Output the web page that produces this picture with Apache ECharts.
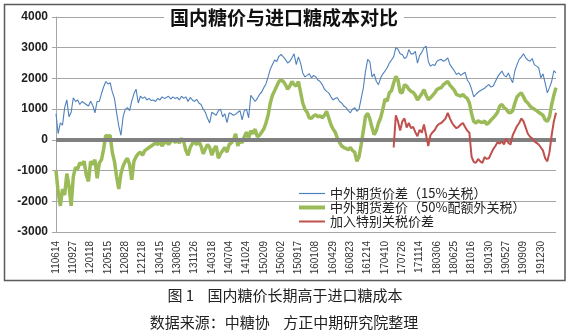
<!DOCTYPE html>
<html>
<head>
<meta charset="utf-8">
<script src="https://cdn.jsdelivr.net/npm/echarts@6/dist/echarts.min.js"></script>
<style>
  html, body { margin: 0; padding: 0; background: #fff; }
  #chart { width: 576px; height: 335px; }
</style>
</head>
<body>
<div id="chart"></div>
<script>
// Date labels (YYMMDD) shown under the axis, one every `pointsPerLabel` samples
const tickLabels = ['110614','110927','120118','120515','120828','121218','130415','130805','131126',
  '140318','140704','141024','150209','150602','150917','160108','160429','160823','161214',
  '170410','170726','171114','180306','180625','181016','190130','190527','190909','191230'];
const pointsPerLabel = 8;

// 中外期货价差（15%关税）, yuan/ton
const spread15 = [
  850,200,550,480,1050,1300,750,900,1370,1250,1300,1150,1250,1200,1150,1100,1260,1120,880,1250,
  1250,1500,1720,1900,1820,1860,1560,1350,880,450,150,750,990,1050,950,1260,1500,1650,1200,1420,
  1350,1400,1300,1350,1280,1300,1250,
  1350,1300,1400,1350,1380,1420,1330,1400,1350,1380,1300,1420,1350,1400,1250,1380,1300,1250,1320,1200,
  1150,1000,900,700,550,900,850,800,950,1000,750,850,560,880,850,800,830,900,950,650,
  950,1000,720,1450,1350,1250,1350,
  1480,1550,1700,1820,2050,2300,2450,2600,2550,2720,2780,2700,2620,2500,2550,2670,2800,2450,2700,2500,
  2180,2050,2100,2150,2020,2100,2050,1950,1900,1800,1650,1580,1530,1400,1300,1350,1370,1250,1200,1100,
  1050,950,880,1000,1050,930,
  1000,1350,1700,2240,2620,2550,2050,2150,1900,1800,2020,2150,2240,2350,2500,2600,2700,3000,2950,2800,
  2780,2650,2700,2940,2800,2800,2880,2500,2750,2850,3000,3050,2550,2400,2450,2420,2560,2600,2620,2560,
  2600,2670,2450,2350,2250,2130,
  2180,2100,2150,2200,1950,1850,1650,1400,1480,1550,1600,1640,1680,1750,1800,1720,1750,1900,2050,2150,
  2240,2100,2050,2180,2000,1860,2250,2450,2620,2700,2800,2670,2600,2560,2650,2450,2400,2350,2020,2150,
  1850,1530,1700,1900,2250,2180
];

// 中外期货差价（50%配额外关税）, yuan/ton
const spread50 = [
  -1000,-1700,-2150,-1600,-1800,-1100,-1500,-2150,-1200,-900,-950,-750,-800,-700,-1150,-1350,-700,-800,-650,-1250,
  -750,-650,-300,150,100,150,-400,-700,-1200,-1600,-1100,-850,-700,-600,-800,-1300,-700,-550,-450,-400,
  -500,-350,-300,-250,-200,-150,-100,
  -150,-50,-200,-100,-50,-150,-50,0,-80,-20,-100,50,-60,-350,-500,-250,-120,-80,-150,-50,
  -200,-450,-300,-150,-250,-500,-300,-200,-600,-450,-350,-250,-400,-150,-100,0,200,-200,0,-100,
  100,250,50,300,200,350,100,
  150,250,350,550,800,1200,1450,1600,1750,1900,1950,1900,1800,1650,1750,1900,1800,1750,1900,1550,
  1200,1000,900,720,700,780,820,750,780,720,800,930,720,500,350,250,50,-80,-200,-250,
  -280,-320,-250,-350,-400,-700,
  -550,-150,300,770,860,680,400,170,300,550,720,1000,1330,1260,1530,1600,1850,2070,1950,1550,
  1530,1800,1750,1650,1580,1550,1450,1300,1400,1500,1640,1450,1310,1370,1450,1530,1640,1680,1700,1800,
  1850,1900,1780,1700,1620,1480,
  1450,1420,1480,1400,1350,1200,850,600,550,620,580,560,620,500,560,650,720,800,900,1100,
  1150,1050,1000,900,880,950,1200,1400,1480,1530,1400,1260,1200,1100,1040,1000,950,900,850,800,
  650,600,750,1150,1450,1700
];

// 加入特别关税价差, begins partway through the period
const specialStart = 156;
const spreadSpecial = [
  -250,800,600,300,600,700,400,550,380,420,250,120,330,230,500,150,-200,150,250,320,
  450,520,550,620,700,880,700,550,450,380,
  420,500,550,420,300,230,-550,-720,-750,-620,-700,-750,-560,-620,-600,-450,-300,-200,-80,-120,
  -50,-150,50,-100,-150,150,300,450,550,700,600,400,200,100,50,-50,-100,-150,-250,-350,
  -600,-700,-400,150,600,880
];

const seriesNames = ['中外期货价差（15%关税）', '中外期货差价（50%配额外关税）', '加入特别关税价差'];
const seriesColors = ['#4f81bd', '#9bbb59', '#c0504d'];
const lineWidths = [1.1, 3.5, 2];
const titleText = '国内糖价与进口糖成本对比';
const captionLine1 = '图 1    国内糖价长期高于进口糖成本';
const captionLine2 = '数据来源：中糖协    方正中期研究院整理';

const toPairs = (arr, start) => arr.map((v, k) => [start + k, v]);
const lastIndex = spread15.length - 1;

const cjk = '"Noto Sans CJK SC", "Noto Sans", sans-serif';
const latin = '"Liberation Sans", Arial, sans-serif';

// legend swatch: a plain bar as thick as the series line
const swatch = w => 'path://M0,0h26v' + w + 'h-26z';

const chart = echarts.init(document.getElementById('chart'), null, { renderer: 'canvas' });
chart.setOption({
  animation: false,
  backgroundColor: '#fff',
  title: {
    text: titleText,
    left: 164,
    top: 6,
    padding: [2, 6],
    backgroundColor: '#fff',
    textStyle: { fontFamily: cjk, fontSize: 19, fontWeight: 'bold', color: '#111' }
  },
  legend: {
    orient: 'vertical',
    left: 294,
    top: 182,
    itemWidth: 26,
    itemHeight: 12,
    itemGap: 1,
    symbolKeepAspect: true,
    textStyle: { fontFamily: cjk, fontSize: 13, color: '#222' },
    data: seriesNames.map((n, k) => ({
      name: n,
      icon: swatch(k === 1 ? 4 : k === 2 ? 2 : 1.2),
      itemStyle: { color: seriesColors[k], borderWidth: 0 }
    }))
  },
  grid: { left: 56, right: 20, top: 17, bottom: 103, containLabel: false },
  xAxis: {
    type: 'value',
    min: 0,
    max: lastIndex,
    interval: pointsPerLabel,
    axisLine: { show: false },
    axisTick: { show: false },
    splitLine: { show: false },
    axisLabel: {
      rotate: 90,
      margin: 9,
      fontSize: 10,
      fontFamily: latin,
      color: '#333',
      showMaxLabel: false,
      formatter: v => (v % pointsPerLabel === 0 ? (tickLabels[v / pointsPerLabel] || '') : '')
    }
  },
  yAxis: {
    type: 'value',
    min: -3000,
    max: 4000,
    interval: 1000,
    axisLine: { show: true, lineStyle: { color: '#a6a6a6', width: 1 } },
    axisTick: { show: true, length: 4, lineStyle: { color: '#a6a6a6' } },
    splitLine: { lineStyle: { color: '#a6a6a6', width: 1 } },
    axisLabel: {
      fontSize: 12, fontWeight: 'bold', fontFamily: latin, color: '#222', margin: 8,
      formatter: v => String(v)
    }
  },
  series: [
    {
      name: seriesNames[0], type: 'line', symbol: 'none', z: 3,
      data: toPairs(spread15, 0),
      lineStyle: { color: seriesColors[0], width: lineWidths[0] },
      itemStyle: { color: seriesColors[0] },
      markLine: {
        silent: true, symbol: ['none', 'none'], label: { show: false },
        lineStyle: { color: '#808080', width: 4, type: 'solid' },
        emphasis: { disabled: true },
        data: [{ yAxis: 0 }]
      }
    },
    {
      name: seriesNames[1], type: 'line', symbol: 'none', z: 4,
      data: toPairs(spread50, 0),
      lineStyle: { color: seriesColors[1], width: lineWidths[1] },
      itemStyle: { color: seriesColors[1] }
    },
    {
      name: seriesNames[2], type: 'line', symbol: 'none', z: 5,
      data: toPairs(spreadSpecial, specialStart),
      lineStyle: { color: seriesColors[2], width: lineWidths[2] },
      itemStyle: { color: seriesColors[2] }
    }
  ],
  graphic: [
    {
      type: 'rect', silent: true, z: 10,
      shape: { x: 4.5, y: 4.5, width: 560.5, height: 276 },
      style: { fill: 'none', stroke: '#5a5a5a', lineWidth: 1.5 }
    },
    {
      type: 'text', silent: true,
      style: { text: captionLine1, x: 285, y: 295, align: 'center', verticalAlign: 'middle',
        font: '15px ' + cjk, fill: '#222' }
    },
    {
      type: 'text', silent: true,
      style: { text: captionLine2, x: 284, y: 322, align: 'center', verticalAlign: 'middle',
        font: '15px ' + cjk, fill: '#222' }
    }
  ]
});
</script>
</body>
</html>
